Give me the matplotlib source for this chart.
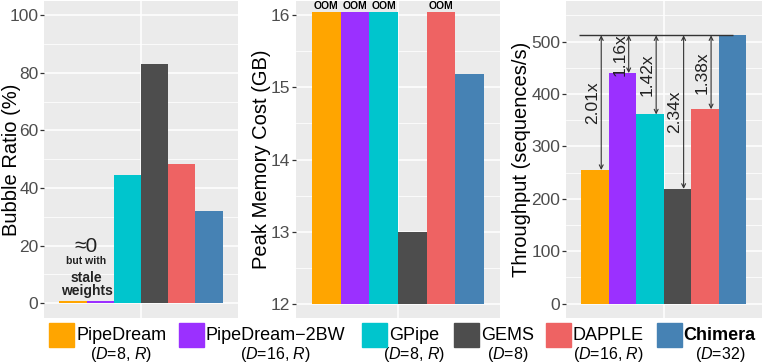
import numpy as np
import matplotlib
matplotlib.use("Agg")
import matplotlib.pyplot as plt
from matplotlib.patches import Rectangle
from matplotlib.ticker import MultipleLocator

plt.rcParams["font.family"] = ["Liberation Sans", "DejaVu Sans"]
plt.rcParams["mathtext.fontset"] = "custom"
plt.rcParams["mathtext.rm"] = "Liberation Sans"
plt.rcParams["mathtext.it"] = "Liberation Sans:italic"

# --- data ---
systems = ["PipeDream", "PipeDream\u22122BW", "GPipe", "GEMS", "DAPPLE", "Chimera"]
configs = [r"($\mathit{D}$=8, $\mathit{R}$)", r"($\mathit{D}$=16, $\mathit{R}$)",
           r"($\mathit{D}$=8, $\mathit{R}$)", r"($\mathit{D}$=8)",
           r"($\mathit{D}$=16, $\mathit{R}$)", r"($\mathit{D}$=32)"]
colors = ["#FFA500", "#9B30FF", "#00C5CD", "#4D4D4D", "#EE6363", "#4682B4"]

bubble_ratio = [0.8, 0.8, 44.6, 83.2, 48.3, 31.9]
peak_memory = [16.05, 16.05, 16.05, 13.0, 16.05, 15.19]
oom = [True, True, True, False, True, False]
throughput = [255, 440, 361, 219, 371, 512]
speedups = ["2.01x", "1.16x", "1.42x", "2.34x", "1.38x"]

W, H = 764, 363
fig = plt.figure(figsize=(W / 100, H / 100), dpi=100)


def px_rect(left, right, top, bottom):
    return [left / W, 1 - bottom / H, (right - left) / W, (bottom - top) / H]


def style_panel(ax, ylim, major, minor):
    ax.set_facecolor("#EBEBEB")
    ax.set_xlim(-1.063, 6.063)
    ax.set_ylim(*ylim)
    ax.yaxis.set_major_locator(MultipleLocator(major))
    ax.yaxis.set_minor_locator(MultipleLocator(minor))
    ax.grid(True, which="major", axis="y", color="white", lw=1.1, zorder=0)
    ax.grid(True, which="minor", axis="y", color="white", lw=0.55, zorder=0)
    ax.axvline(2.5, color="white", lw=1.1, zorder=0)
    ax.set_xticks([])
    ax.tick_params(axis="y", which="major", length=3, width=0.9,
                   color="#333333", labelcolor="#4D4D4D", labelsize=12.5, pad=1)
    ax.tick_params(axis="y", which="minor", length=0)
    for s in ax.spines.values():
        s.set_visible(False)
    ax.set_axisbelow(True)


x = np.arange(len(systems))

# --- Bubble ratio ---
ax1 = fig.add_axes(px_rect(44, 238, 1, 318))
style_panel(ax1, (-5.1, 104.9), 20, 10)
ax1.bar(x, bubble_ratio, width=1.0, color=colors, zorder=2)
ax1.set_ylabel("Bubble Ratio (%)", fontsize=14.5)
ax1.yaxis.set_label_coords(-0.121, 0.5)
ax1.text(0.5, 19.8, "\u22480", ha="center", va="center", fontsize=15, color="#222222")
ax1.text(0.5, 14.6, "but with", ha="center", va="center", fontsize=7.5,
         fontweight="bold", color="#222222")
ax1.text(0.5, 6.6, "stale\nweights", ha="center", va="center", fontsize=10,
         fontweight="bold", color="#222222", linespacing=0.95)

# --- Peak memory ---
ax2 = fig.add_axes(px_rect(295.7, 500, 1, 318))
style_panel(ax2, (11.8, 16.2), 1, 0.5)
mem = np.array(peak_memory)
ax2.bar(x, mem - 12, bottom=12, width=1.0, color=colors, zorder=2)
for i, flag in enumerate(oom):
    if flag:
        ax2.annotate("OOM", xy=(i, mem[i]), xytext=(0, 0.3), textcoords="offset points",
                     ha="center", va="bottom", fontsize=7.5, fontweight="bold")
ax2.set_ylabel("Peak Memory Cost (GB)", fontsize=14.5)
ax2.yaxis.set_label_coords(-0.122, 0.5)

# --- Throughput ---
ax3 = fig.add_axes(px_rect(566, 761.7, 1, 318))
style_panel(ax3, (-27.5, 577.5), 100, 50)
ax3.bar(x, throughput, width=1.0, color=colors, zorder=2)
best = throughput[-1]
ax3.hlines(best, -0.6, x[-1], color="#333333", lw=1.0, zorder=3)
for i, lab in enumerate(speedups):
    ax3.annotate("", xy=(i + 0.22, throughput[i]), xytext=(i + 0.22, best),
                 arrowprops=dict(arrowstyle="<->", lw=0.8, color="#333333",
                                 shrinkA=0, shrinkB=0, mutation_scale=7),
                 zorder=4)
    ax3.text(i - 0.1, (throughput[i] + best) / 2, lab, rotation=90,
             ha="center", va="center", fontsize=12.5, color="#222222", zorder=4)
ax3.set_ylabel("Throughput (sequences/s)", fontsize=14.5)
ax3.yaxis.set_label_coords(-0.180, 0.5)

# --- Legend ---
key_left = [49, 179, 362.3, 454, 545.7, 656.7]
for i, name in enumerate(systems):
    l = key_left[i]
    fig.add_artist(Rectangle((l / W, 1 - 346.7 / H), 25 / W, 24 / H,
                             transform=fig.transFigure, color=colors[i]))
    t = fig.text((l + 27) / W, 1 - 335 / H, name, ha="left", va="center",
                 fontsize=13, fontweight="bold" if name == "Chimera" else "normal")
    ax1.annotate(configs[i], xy=(0.5, 0), xycoords=t, xytext=(0, -1),
                 textcoords="offset points", ha="center", va="top", fontsize=11.5,
                 annotation_clip=False)

fig.savefig("out.png", dpi=100)
